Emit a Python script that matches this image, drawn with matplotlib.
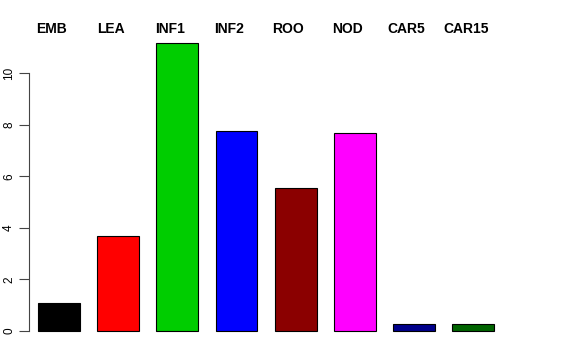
import matplotlib
matplotlib.use("Agg")
import matplotlib.pyplot as plt
from matplotlib.transforms import blended_transform_factory

names = ["EMB", "LEA", "INF1", "INF2", "ROO", "NOD", "CAR5", "CAR15"]
values = [1.09, 3.68, 11.16, 7.75, 5.54, 7.67, 0.27, 0.27]
colors = ["black", "red", "#00CD00", "blue", "#8B0000", "magenta", "#00008B", "#006400"]
yticks = [0, 2, 4, 6, 8, 10]

plt.rcParams['font.family'] = ['Liberation Sans', 'DejaVu Sans']

fig = plt.figure(figsize=(5.76, 3.6), dpi=100)
ax = fig.add_axes([29/576, 14.5/360, (520-29)/576, (345.5-31.5)/360])

xs = [0.7 + 1.2*i for i in range(len(values))]
ax.bar(xs, values, width=0.85, color=colors, edgecolor="black", linewidth=0.8)
ax.set_xlim(0.091, 10.05)
ax.set_ylim(-0.56, 11.61)

for s in ["top", "right", "bottom"]:
    ax.spines[s].set_visible(False)
ax.spines["left"].set_bounds(0, 10)
ax.spines["left"].set_color("#444444")
ax.spines["left"].set_linewidth(0.8)
ax.set_xticks([])
ax.set_yticks(yticks)
ax.set_yticklabels([str(v) for v in yticks], rotation=90, va="center", fontsize=8.5)
ax.tick_params(axis="y", length=7, width=0.8, color="#444444", pad=3)

tr = blended_transform_factory(ax.transData, fig.transFigure)
for x, n in zip(xs, names):
    ax.text(x - 0.15, (360-29)/360, n, transform=tr,
            ha="center", va="center", fontsize=10, fontweight="bold")

fig.savefig("out.png", dpi=100)
